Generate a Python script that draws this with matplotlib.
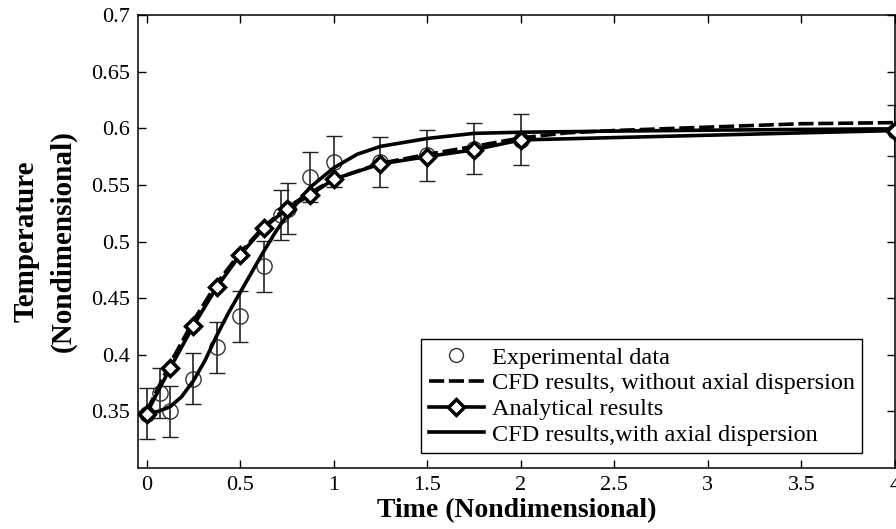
import matplotlib.pyplot as plt
from matplotlib.lines import Line2D


# experimental points (circles with error bars)
exp_t = [0, 0.07, 0.125, 0.25, 0.375, 0.5, 0.625, 0.72, 0.755, 0.875, 1.0,
         1.25, 1.5, 1.75, 2.0, 4.0]
exp_T = [0.348, 0.366, 0.350, 0.379, 0.4065, 0.434, 0.478, 0.5235, 0.529,
         0.5573, 0.5706, 0.570, 0.576, 0.582, 0.590, 0.598]
exp_err = [0.0225, 0.022, 0.0225, 0.0225, 0.0225, 0.0225, 0.0225, 0.022,
           0.0225, 0.022, 0.0225, 0.022, 0.0225, 0.0225, 0.0225, 0.0228]

# CFD without axial dispersion (dashed)
cfd_t = [0, 0.125, 0.25, 0.375, 0.5, 0.625, 0.75, 0.875, 1.0, 1.25, 1.5,
         1.75, 2.0, 2.25, 2.5, 3.0, 3.5, 4.0]
cfd_T = [0.350, 0.392, 0.430, 0.463, 0.490, 0.513, 0.530, 0.543, 0.555,
         0.569, 0.577, 0.584, 0.5915, 0.596, 0.598, 0.601, 0.604, 0.605]

# analytical results (diamonds)
ana_t = [0, 0.125, 0.25, 0.375, 0.5, 0.625, 0.75, 0.875, 1.0, 1.25, 1.5,
         1.75, 2.0, 4.0]
ana_T = [0.348, 0.388, 0.4256, 0.4597, 0.4882, 0.5118, 0.529, 0.5412,
         0.555, 0.5685, 0.575, 0.581, 0.5897, 0.598]

# CFD with axial dispersion (solid)
disp_t = [0, 0.0625, 0.125, 0.1875, 0.25, 0.3125, 0.375, 0.4375, 0.5,
          0.5625, 0.625, 0.6875, 0.75, 0.875, 1.0, 1.125, 1.25, 1.5, 1.75,
          2.0, 2.5, 3.0, 3.5, 4.0]
disp_T = [0.348, 0.350, 0.354, 0.363, 0.377, 0.395, 0.417, 0.437, 0.455,
          0.473, 0.491, 0.508, 0.523, 0.548, 0.565, 0.577, 0.584, 0.591,
          0.5955, 0.5965, 0.5975, 0.5983, 0.599, 0.5995]

LABELS = ["Experimental data",
          "CFD results, without axial dispersion",
          "Analytical results",
          "CFD results,with axial dispersion"]

X_TICKS = [0, 0.5, 1, 1.5, 2, 2.5, 3, 3.5, 4]
X_TICKLABELS = ["0", "0.5", "1", "1.5", "2", "2.5", "3", "3.5", "4"]
Y_TICKS = [0.35, 0.4, 0.45, 0.5, 0.55, 0.6, 0.65, 0.7]
Y_TICKLABELS = ["0.35", "0.4", "0.45", "0.5", "0.55", "0.6", "0.65", "0.7"]

plt.rcParams["font.family"] = ["Liberation Serif", "DejaVu Serif"]

fig = plt.figure(figsize=(8.96, 5.29), dpi=100)
ax = fig.add_axes([0.154, 0.1153, 0.8449, 0.8563])

ax.errorbar(exp_t, exp_T, yerr=exp_err, fmt="o", color="black", ms=11,
            mfc="none", mec="#333333", mew=1.0, elinewidth=1.2, capsize=5.5,
            capthick=1.2, ecolor="#222222", zorder=2)
cfd_line, = ax.plot(cfd_t, cfd_T, color="black", lw=2.6, ls=(0, (4.2, 1.3)),
                    zorder=3)
ana_line, = ax.plot(ana_t, ana_T, color="black", lw=2.6, marker="D", ms=8,
                    mfc="white", mec="black", mew=2.5, zorder=4)
disp_line, = ax.plot(disp_t, disp_T, color="black", lw=2.6, zorder=3)

exp_handle = Line2D([], [], ls="none", marker="o", ms=10, mfc="none",
                    mec="#333333", mew=1.0)

ax.set_xlim(-0.046, 4.0)
ax.set_ylim(0.3, 0.7)
ax.set_xticks(X_TICKS)
ax.set_xticklabels(X_TICKLABELS)
ax.set_yticks(Y_TICKS)
ax.set_yticklabels(Y_TICKLABELS)
ax.tick_params(direction="in", length=6, width=1, labelsize=16,
               top=True, right=True, pad=6)
for s in ax.spines.values():
    s.set_linewidth(1.1)

ax.set_xlabel("Time (Nondimensional)", fontsize=20, fontweight="bold",
              labelpad=2)
ax.set_ylabel("Temperature\n(Nondimensional)", fontsize=21,
              fontweight="bold", labelpad=10, linespacing=1.45)

leg = ax.legend([exp_handle, cfd_line, ana_line, disp_line], LABELS,
                loc="lower right", bbox_to_anchor=(0.9564, 0.0331),
                fontsize=17.5, frameon=True, fancybox=False, framealpha=1,
                edgecolor="black", handlelength=2.3, labelspacing=0.15,
                borderpad=0.3, handletextpad=0.3, borderaxespad=0)
leg.get_frame().set_linewidth(1.0)

fig.savefig("out.png", dpi=100)
